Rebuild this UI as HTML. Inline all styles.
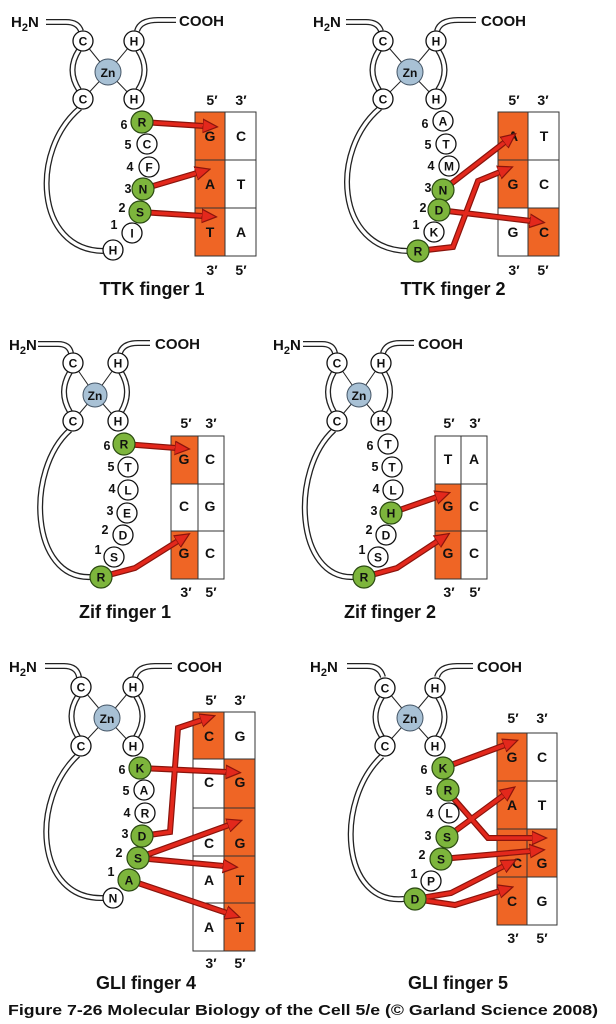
<!DOCTYPE html>
<html><head><meta charset="utf-8"><style>
html,body{margin:0;padding:0;background:#fff;}
svg{display:block;}
text{font-family:"Liberation Sans",sans-serif;font-weight:bold;fill:#111;}
.r{font-size:12px;text-anchor:middle;}
.n{font-size:12.5px;text-anchor:middle;}
.b{font-size:14px;text-anchor:middle;}
.lab{font-size:15px;}
.t{font-size:18px;text-anchor:middle;}
.tubeo{fill:none;stroke:#222;stroke-width:6;}
.tubei{fill:none;stroke:#fff;stroke-width:3.4;}
.zl{stroke:#222;stroke-width:1;}
.w{fill:#fff;stroke:#111;stroke-width:1.3;}
.g{fill:#7db53c;stroke:#2b4a12;stroke-width:1.2;}
.zn{fill:#a8c1d5;stroke:#456;stroke-width:1;}
.o{fill:#ef6525;stroke:#333;stroke-width:1;}
.e{fill:#fff;stroke:#333;stroke-width:1;}
.au{fill:none;stroke:#8a140c;stroke-width:6;stroke-linejoin:miter;}
.ar{fill:none;stroke:#e3281c;stroke-width:3.6;marker-end:url(#ah);stroke-linejoin:miter;}
</style></head><body>
<svg width="616" height="1024" viewBox="0 0 616 1024" xmlns="http://www.w3.org/2000/svg">
<defs>
<marker id="ah" markerUnits="userSpaceOnUse" markerWidth="16" markerHeight="16" refX="1" refY="6" orient="auto" viewBox="0 0 13 12">
<path d="M0,0.5 L12,6 L0,11.5 z" fill="#e3281c" stroke="#8a140c" stroke-width="1"/>
</marker>
</defs>

<!-- ================= Panel 1: TTK finger 1 ================= -->
<g>
<path class="tubeo" d="M46,22 L66,22 Q78,22 81,31 M79,50 Q66,70 79,90 M137,31 Q140,20 158,20 L176,20 M138,50 Q151,70 138,90 M80,108 C30,150 35,250 103,251"/>
<path class="tubei" d="M46,22 L66,22 Q78,22 81,31 M79,50 Q66,70 79,90 M137,31 Q140,20 158,20 L176,20 M138,50 Q151,70 138,90 M80,108 C30,150 35,250 103,251"/>
<line class="zl" x1="83" y1="41" x2="108" y2="72"/><line class="zl" x1="134" y1="41" x2="108" y2="72"/>
<line class="zl" x1="83" y1="99" x2="108" y2="72"/><line class="zl" x1="134" y1="99" x2="108" y2="72"/>
<text class="lab" x="11" y="27">H<tspan font-size="11" dy="4">2</tspan><tspan dy="-4">N</tspan></text>
<text class="lab" x="179" y="26">COOH</text>
<rect class="o" x="195" y="112" width="30" height="48"/><rect class="e" x="225" y="112" width="31" height="48"/>
<rect class="o" x="195" y="160" width="30" height="48"/><rect class="e" x="225" y="160" width="31" height="48"/>
<rect class="o" x="195" y="208" width="30" height="48"/><rect class="e" x="225" y="208" width="31" height="48"/>
<text class="b" x="210" y="141">G</text><text class="b" x="241" y="141">C</text>
<text class="b" x="210" y="189">A</text><text class="b" x="241" y="189">T</text>
<text class="b" x="210" y="237">T</text><text class="b" x="241" y="237">A</text>
<text class="b" x="212" y="105">5′</text><text class="b" x="241" y="105">3′</text>
<text class="b" x="212" y="275">3′</text><text class="b" x="241" y="275">5′</text>
<path class="au" d="M142,122 L204,126 M143,189 L197,173 M140,212 L203,216"/>
<path class="ar" d="M142,122 L204,126"/><path class="ar" d="M143,189 L197,173"/><path class="ar" d="M140,212 L203,216"/>
<circle class="w" cx="83" cy="41" r="10"/><text class="r" x="83" y="45.5">C</text>
<circle class="w" cx="134" cy="41" r="10"/><text class="r" x="134" y="45.5">H</text>
<circle class="zn" cx="108" cy="72" r="13"/><text class="r" x="108" y="77">Zn</text>
<circle class="w" cx="83" cy="99" r="10"/><text class="r" x="83" y="103.5">C</text>
<circle class="w" cx="134" cy="99" r="10"/><text class="r" x="134" y="103.5">H</text>
<circle class="w" cx="113" cy="250" r="10"/><text class="r" x="113" y="254.5">H</text>
<circle class="w" cx="132" cy="233" r="10"/><text class="r" x="132" y="237.5">I</text>
<circle class="w" cx="149" cy="167" r="10"/><text class="r" x="149" y="171.5">F</text>
<circle class="w" cx="147" cy="144" r="10"/><text class="r" x="147" y="148.5">C</text>
<circle class="g" cx="143" cy="189" r="11"/><text class="r" x="143" y="193.5">N</text>
<circle class="g" cx="140" cy="212" r="11"/><text class="r" x="140" y="216.5">S</text>
<circle class="g" cx="142" cy="122" r="11"/><text class="r" x="142" y="126.5">R</text>
<text class="n" x="124" y="129">6</text><text class="n" x="128" y="149">5</text><text class="n" x="130" y="171">4</text>
<text class="n" x="128" y="193">3</text><text class="n" x="122" y="212">2</text><text class="n" x="114" y="229">1</text>
<text class="t" x="152" y="295">TTK finger 1</text>
</g>

<!-- ================= Panel 2: TTK finger 2 ================= -->
<g>
<path class="tubeo" d="M346,22 L366,22 Q378,22 381,31 M379,50 Q366,70 379,90 M437,31 Q440,20 458,20 L476,20 M438,50 Q451,70 438,90 M380,108 C330,150 335,250 408,251"/>
<path class="tubei" d="M346,22 L366,22 Q378,22 381,31 M379,50 Q366,70 379,90 M437,31 Q440,20 458,20 L476,20 M438,50 Q451,70 438,90 M380,108 C330,150 335,250 408,251"/>
<line class="zl" x1="383" y1="41" x2="410" y2="72"/><line class="zl" x1="436" y1="41" x2="410" y2="72"/>
<line class="zl" x1="383" y1="99" x2="410" y2="72"/><line class="zl" x1="436" y1="99" x2="410" y2="72"/>
<text class="lab" x="313" y="27">H<tspan font-size="11" dy="4">2</tspan><tspan dy="-4">N</tspan></text>
<text class="lab" x="481" y="26">COOH</text>
<rect class="o" x="498" y="112" width="30" height="48"/><rect class="e" x="528" y="112" width="31" height="48"/>
<rect class="o" x="498" y="160" width="30" height="48"/><rect class="e" x="528" y="160" width="31" height="48"/>
<rect class="e" x="498" y="208" width="30" height="48"/><rect class="o" x="528" y="208" width="31" height="48"/>
<text class="b" x="513" y="141">A</text><text class="b" x="544" y="141">T</text>
<text class="b" x="513" y="189">G</text><text class="b" x="544" y="189">C</text>
<text class="b" x="513" y="237">G</text><text class="b" x="544" y="237">C</text>
<text class="b" x="514" y="105">5′</text><text class="b" x="543" y="105">3′</text>
<text class="b" x="514" y="275">3′</text><text class="b" x="543" y="275">5′</text>
<path class="au" d="M443,190 L505,142 M439,210 L531,221 M418,251 L453,247 L478,181 L500,172"/>
<path class="ar" d="M443,190 L505,142"/><path class="ar" d="M439,210 L531,221"/><path class="ar" d="M418,251 L453,247 L478,181 L500,172"/>
<circle class="w" cx="383" cy="41" r="10"/><text class="r" x="383" y="45.5">C</text>
<circle class="w" cx="436" cy="41" r="10"/><text class="r" x="436" y="45.5">H</text>
<circle class="zn" cx="410" cy="72" r="13"/><text class="r" x="410" y="77">Zn</text>
<circle class="w" cx="383" cy="99" r="10"/><text class="r" x="383" y="103.5">C</text>
<circle class="w" cx="436" cy="99" r="10"/><text class="r" x="436" y="103.5">H</text>
<circle class="w" cx="443" cy="121" r="10"/><text class="r" x="443" y="125.5">A</text>
<circle class="w" cx="446" cy="144" r="10"/><text class="r" x="446" y="148.5">T</text>
<circle class="w" cx="449" cy="166" r="10"/><text class="r" x="449" y="170.5">M</text>
<circle class="w" cx="434" cy="232" r="10"/><text class="r" x="434" y="236.5">K</text>
<circle class="g" cx="443" cy="190" r="11"/><text class="r" x="443" y="194.5">N</text>
<circle class="g" cx="439" cy="210" r="11"/><text class="r" x="439" y="214.5">D</text>
<circle class="g" cx="418" cy="251" r="11"/><text class="r" x="418" y="255.5">R</text>
<text class="n" x="425" y="128">6</text><text class="n" x="428" y="149">5</text><text class="n" x="431" y="170">4</text>
<text class="n" x="428" y="192">3</text><text class="n" x="423" y="212">2</text><text class="n" x="416" y="229">1</text>
<text class="t" x="453" y="295">TTK finger 2</text>
</g>

<!-- ================= Panel 3: Zif finger 1 ================= -->
<g>
<path class="tubeo" d="M38,344 L58,344 Q69,344 71,353 M70,372 Q58,392 70,412 M120,353 Q123,343 138,343 L150,343 M121,372 Q133,392 121,412 M70,430 C25,470 30,580 91,577"/>
<path class="tubei" d="M38,344 L58,344 Q69,344 71,353 M70,372 Q58,392 70,412 M120,353 Q123,343 138,343 L150,343 M121,372 Q133,392 121,412 M70,430 C25,470 30,580 91,577"/>
<line class="zl" x1="73" y1="363" x2="95" y2="395"/><line class="zl" x1="118" y1="363" x2="95" y2="395"/>
<line class="zl" x1="73" y1="421" x2="95" y2="395"/><line class="zl" x1="118" y1="421" x2="95" y2="395"/>
<text class="lab" x="9" y="350">H<tspan font-size="11" dy="4">2</tspan><tspan dy="-4">N</tspan></text>
<text class="lab" x="155" y="349">COOH</text>
<rect class="o" x="171" y="436" width="27" height="48"/><rect class="e" x="198" y="436" width="26" height="48"/>
<rect class="e" x="171" y="484" width="27" height="47"/><rect class="e" x="198" y="484" width="26" height="47"/>
<rect class="o" x="171" y="531" width="27" height="48"/><rect class="e" x="198" y="531" width="26" height="48"/>
<text class="b" x="184" y="464">G</text><text class="b" x="210" y="464">C</text>
<text class="b" x="184" y="511">C</text><text class="b" x="210" y="511">G</text>
<text class="b" x="184" y="558">G</text><text class="b" x="210" y="558">C</text>
<text class="b" x="186" y="428">5′</text><text class="b" x="211" y="428">3′</text>
<text class="b" x="186" y="597">3′</text><text class="b" x="211" y="597">5′</text>
<path class="au" d="M124,444 L176,448 M101,577 L135,568 L178,541"/>
<path class="ar" d="M124,444 L176,448"/><path class="ar" d="M101,577 L135,568 L178,541"/>
<circle class="w" cx="73" cy="363" r="10"/><text class="r" x="73" y="367.5">C</text>
<circle class="w" cx="118" cy="363" r="10"/><text class="r" x="118" y="367.5">H</text>
<circle class="zn" cx="95" cy="395" r="12"/><text class="r" x="95" y="400">Zn</text>
<circle class="w" cx="73" cy="421" r="10"/><text class="r" x="73" y="425.5">C</text>
<circle class="w" cx="118" cy="421" r="10"/><text class="r" x="118" y="425.5">H</text>
<circle class="w" cx="128" cy="467" r="10"/><text class="r" x="128" y="471.5">T</text>
<circle class="w" cx="128" cy="490" r="10"/><text class="r" x="128" y="494.5">L</text>
<circle class="w" cx="127" cy="513" r="10"/><text class="r" x="127" y="517.5">E</text>
<circle class="w" cx="123" cy="535" r="10"/><text class="r" x="123" y="539.5">D</text>
<circle class="w" cx="114" cy="557" r="10"/><text class="r" x="114" y="561.5">S</text>
<circle class="g" cx="124" cy="444" r="11"/><text class="r" x="124" y="448.5">R</text>
<circle class="g" cx="101" cy="577" r="11"/><text class="r" x="101" y="581.5">R</text>
<text class="n" x="107" y="450">6</text><text class="n" x="111" y="471">5</text><text class="n" x="112" y="493">4</text>
<text class="n" x="110" y="515">3</text><text class="n" x="105" y="534">2</text><text class="n" x="98" y="554">1</text>
<text class="t" x="125" y="618">Zif finger 1</text>
</g>

<!-- ================= Panel 4: Zif finger 2 ================= -->
<g>
<path class="tubeo" d="M303,344 L322,344 Q333,344 335,353 M334,372 Q322,392 334,412 M383,353 Q386,343 400,343 L414,343 M384,372 Q396,392 384,412 M334,430 C290,470 295,580 354,577"/>
<path class="tubei" d="M303,344 L322,344 Q333,344 335,353 M334,372 Q322,392 334,412 M383,353 Q386,343 400,343 L414,343 M384,372 Q396,392 384,412 M334,430 C290,470 295,580 354,577"/>
<line class="zl" x1="337" y1="363" x2="359" y2="395"/><line class="zl" x1="381" y1="363" x2="359" y2="395"/>
<line class="zl" x1="337" y1="421" x2="359" y2="395"/><line class="zl" x1="381" y1="421" x2="359" y2="395"/>
<text class="lab" x="273" y="350">H<tspan font-size="11" dy="4">2</tspan><tspan dy="-4">N</tspan></text>
<text class="lab" x="418" y="349">COOH</text>
<rect class="e" x="435" y="436" width="26" height="48"/><rect class="e" x="461" y="436" width="26" height="48"/>
<rect class="o" x="435" y="484" width="26" height="47"/><rect class="e" x="461" y="484" width="26" height="47"/>
<rect class="o" x="435" y="531" width="26" height="48"/><rect class="e" x="461" y="531" width="26" height="48"/>
<text class="b" x="448" y="464">T</text><text class="b" x="474" y="464">A</text>
<text class="b" x="448" y="511">G</text><text class="b" x="474" y="511">C</text>
<text class="b" x="448" y="558">G</text><text class="b" x="474" y="558">C</text>
<text class="b" x="449" y="428">5′</text><text class="b" x="475" y="428">3′</text>
<text class="b" x="449" y="597">3′</text><text class="b" x="475" y="597">5′</text>
<path class="au" d="M391,513 L437,497 M364,577 L397,568 L438,541"/>
<path class="ar" d="M391,513 L437,497"/><path class="ar" d="M364,577 L397,568 L438,541"/>
<circle class="w" cx="337" cy="363" r="10"/><text class="r" x="337" y="367.5">C</text>
<circle class="w" cx="381" cy="363" r="10"/><text class="r" x="381" y="367.5">H</text>
<circle class="zn" cx="359" cy="395" r="12"/><text class="r" x="359" y="400">Zn</text>
<circle class="w" cx="337" cy="421" r="10"/><text class="r" x="337" y="425.5">C</text>
<circle class="w" cx="381" cy="421" r="10"/><text class="r" x="381" y="425.5">H</text>
<circle class="w" cx="388" cy="444" r="10"/><text class="r" x="388" y="448.5">T</text>
<circle class="w" cx="392" cy="467" r="10"/><text class="r" x="392" y="471.5">T</text>
<circle class="w" cx="393" cy="490" r="10"/><text class="r" x="393" y="494.5">L</text>
<circle class="w" cx="386" cy="535" r="10"/><text class="r" x="386" y="539.5">D</text>
<circle class="w" cx="378" cy="557" r="10"/><text class="r" x="378" y="561.5">S</text>
<circle class="g" cx="391" cy="513" r="11"/><text class="r" x="391" y="517.5">H</text>
<circle class="g" cx="364" cy="577" r="11"/><text class="r" x="364" y="581.5">R</text>
<text class="n" x="370" y="450">6</text><text class="n" x="375" y="471">5</text><text class="n" x="376" y="493">4</text>
<text class="n" x="374" y="515">3</text><text class="n" x="369" y="534">2</text><text class="n" x="362" y="554">1</text>
<text class="t" x="390" y="618">Zif finger 2</text>
</g>

<!-- ================= Panel 5: GLI finger 4 ================= -->
<g>
<path class="tubeo" d="M45,666 L64,666 Q77,666 79,677 M78,696 Q65,716 78,737 M135,677 Q138,666 155,666 L172,666 M136,696 Q149,716 136,737 M78,755 C30,800 35,900 103,898"/>
<path class="tubei" d="M45,666 L64,666 Q77,666 79,677 M78,696 Q65,716 78,737 M135,677 Q138,666 155,666 L172,666 M136,696 Q149,716 136,737 M78,755 C30,800 35,900 103,898"/>
<line class="zl" x1="81" y1="687" x2="107" y2="718"/><line class="zl" x1="133" y1="687" x2="107" y2="718"/>
<line class="zl" x1="81" y1="746" x2="107" y2="718"/><line class="zl" x1="133" y1="746" x2="107" y2="718"/>
<text class="lab" x="9" y="672">H<tspan font-size="11" dy="4">2</tspan><tspan dy="-4">N</tspan></text>
<text class="lab" x="177" y="672">COOH</text>
<rect class="o" x="193" y="712" width="31" height="47"/><rect class="e" x="224" y="712" width="31" height="47"/>
<rect class="e" x="193" y="759" width="31" height="49"/><rect class="o" x="224" y="759" width="31" height="49"/>
<rect class="e" x="193" y="808" width="31" height="48"/><rect class="o" x="224" y="808" width="31" height="48"/>
<rect class="e" x="193" y="856" width="31" height="47"/><rect class="o" x="224" y="856" width="31" height="47"/>
<rect class="e" x="193" y="903" width="31" height="48"/><rect class="o" x="224" y="903" width="31" height="48"/>
<text class="b" x="209" y="741">C</text><text class="b" x="240" y="741">G</text>
<text class="b" x="209" y="787">C</text><text class="b" x="240" y="787">G</text>
<text class="b" x="209" y="848">C</text><text class="b" x="240" y="848">G</text>
<text class="b" x="209" y="885">A</text><text class="b" x="240" y="885">T</text>
<text class="b" x="209" y="932">A</text><text class="b" x="240" y="932">T</text>
<text class="b" x="211" y="705">5′</text><text class="b" x="240" y="705">3′</text>
<text class="b" x="211" y="968">3′</text><text class="b" x="240" y="968">5′</text>
<path class="au" d="M140,768 L227,772 M142,836 L170,832 L178,728 L202,720 M138,858 L229,825 M138,858 L224,866 M129,880 L227,913"/>
<path class="ar" d="M140,768 L227,772"/><path class="ar" d="M142,836 L170,832 L178,728 L202,720"/>
<path class="ar" d="M138,858 L229,825"/><path class="ar" d="M138,858 L224,866"/><path class="ar" d="M129,880 L227,913"/>
<circle class="w" cx="81" cy="687" r="10"/><text class="r" x="81" y="691.5">C</text>
<circle class="w" cx="133" cy="687" r="10"/><text class="r" x="133" y="691.5">H</text>
<circle class="zn" cx="107" cy="718" r="13"/><text class="r" x="107" y="723">Zn</text>
<circle class="w" cx="81" cy="746" r="10"/><text class="r" x="81" y="750.5">C</text>
<circle class="w" cx="133" cy="746" r="10"/><text class="r" x="133" y="750.5">H</text>
<circle class="w" cx="144" cy="790" r="10"/><text class="r" x="144" y="794.5">A</text>
<circle class="w" cx="145" cy="813" r="10"/><text class="r" x="145" y="817.5">R</text>
<circle class="w" cx="113" cy="898" r="10"/><text class="r" x="113" y="902.5">N</text>
<circle class="g" cx="140" cy="768" r="11"/><text class="r" x="140" y="772.5">K</text>
<circle class="g" cx="142" cy="836" r="11"/><text class="r" x="142" y="840.5">D</text>
<circle class="g" cx="138" cy="858" r="11"/><text class="r" x="138" y="862.5">S</text>
<circle class="g" cx="129" cy="880" r="11"/><text class="r" x="129" y="884.5">A</text>
<text class="n" x="122" y="774">6</text><text class="n" x="126" y="795">5</text><text class="n" x="127" y="817">4</text>
<text class="n" x="125" y="838">3</text><text class="n" x="119" y="857">2</text><text class="n" x="111" y="876">1</text>
<text class="t" x="146" y="989">GLI finger 4</text>
</g>

<!-- ================= Panel 6: GLI finger 5 ================= -->
<g>
<path class="tubeo" d="M347,666 L367,666 Q380,666 383,677 M382,697 Q369,717 382,737 M437,677 Q440,666 457,666 L473,666 M438,697 Q451,717 438,737 M382,756 C335,800 340,905 404,899"/>
<path class="tubei" d="M347,666 L367,666 Q380,666 383,677 M382,697 Q369,717 382,737 M437,677 Q440,666 457,666 L473,666 M438,697 Q451,717 438,737 M382,756 C335,800 340,905 404,899"/>
<line class="zl" x1="385" y1="688" x2="410" y2="718"/><line class="zl" x1="435" y1="688" x2="410" y2="718"/>
<line class="zl" x1="385" y1="746" x2="410" y2="718"/><line class="zl" x1="435" y1="746" x2="410" y2="718"/>
<text class="lab" x="310" y="672">H<tspan font-size="11" dy="4">2</tspan><tspan dy="-4">N</tspan></text>
<text class="lab" x="477" y="672">COOH</text>
<rect class="o" x="497" y="733" width="30" height="48"/><rect class="e" x="527" y="733" width="30" height="48"/>
<rect class="o" x="497" y="781" width="30" height="48"/><rect class="e" x="527" y="781" width="30" height="48"/>
<rect class="o" x="497" y="829" width="30" height="48"/><rect class="o" x="527" y="829" width="30" height="48"/>
<rect class="o" x="497" y="877" width="30" height="48"/><rect class="e" x="527" y="877" width="30" height="48"/>
<text class="b" x="512" y="762">G</text><text class="b" x="542" y="762">C</text>
<text class="b" x="512" y="810">A</text><text class="b" x="542" y="810">T</text>
<text class="b" x="517" y="868">C</text><text class="b" x="542" y="868">G</text>
<text class="b" x="512" y="906">C</text><text class="b" x="542" y="906">G</text>
<text class="b" x="513" y="723">5′</text><text class="b" x="542" y="723">3′</text>
<text class="b" x="513" y="943">3′</text><text class="b" x="542" y="943">5′</text>
<path class="au" d="M443,768 L505,745 M448,792 L488,838 L533,838 M447,837 L504,795 M441,859 L531,851 M415,899 L451,893 L504,866 M415,899 L455,905 L500,891"/>
<path class="ar" d="M443,768 L505,745"/><path class="ar" d="M448,792 L488,838 L533,838"/>
<path class="ar" d="M447,837 L504,795"/><path class="ar" d="M441,859 L531,851"/>
<path class="ar" d="M415,899 L451,893 L504,866"/><path class="ar" d="M415,899 L455,905 L500,891"/>
<circle class="w" cx="385" cy="688" r="10"/><text class="r" x="385" y="692.5">C</text>
<circle class="w" cx="435" cy="688" r="10"/><text class="r" x="435" y="692.5">H</text>
<circle class="zn" cx="410" cy="718" r="13"/><text class="r" x="410" y="723">Zn</text>
<circle class="w" cx="385" cy="746" r="10"/><text class="r" x="385" y="750.5">C</text>
<circle class="w" cx="435" cy="746" r="10"/><text class="r" x="435" y="750.5">H</text>
<circle class="w" cx="449" cy="813" r="10"/><text class="r" x="449" y="817.5">L</text>
<circle class="w" cx="431" cy="881" r="10"/><text class="r" x="431" y="885.5">P</text>
<circle class="g" cx="443" cy="768" r="11"/><text class="r" x="443" y="772.5">K</text>
<circle class="g" cx="448" cy="790" r="11"/><text class="r" x="448" y="794.5">R</text>
<circle class="g" cx="447" cy="837" r="11"/><text class="r" x="447" y="841.5">S</text>
<circle class="g" cx="441" cy="859" r="11"/><text class="r" x="441" y="863.5">S</text>
<circle class="g" cx="415" cy="899" r="11"/><text class="r" x="415" y="903.5">D</text>
<text class="n" x="424" y="774">6</text><text class="n" x="429" y="795">5</text><text class="n" x="430" y="818">4</text>
<text class="n" x="428" y="840">3</text><text class="n" x="422" y="859">2</text><text class="n" x="414" y="878">1</text>
<text class="t" x="458" y="989">GLI finger 5</text>
</g>

<text x="8" y="1015" font-size="15" textLength="590" lengthAdjust="spacingAndGlyphs">Figure 7-26  Molecular Biology of the Cell 5/e (© Garland Science 2008)</text>
</svg>
</body></html>
